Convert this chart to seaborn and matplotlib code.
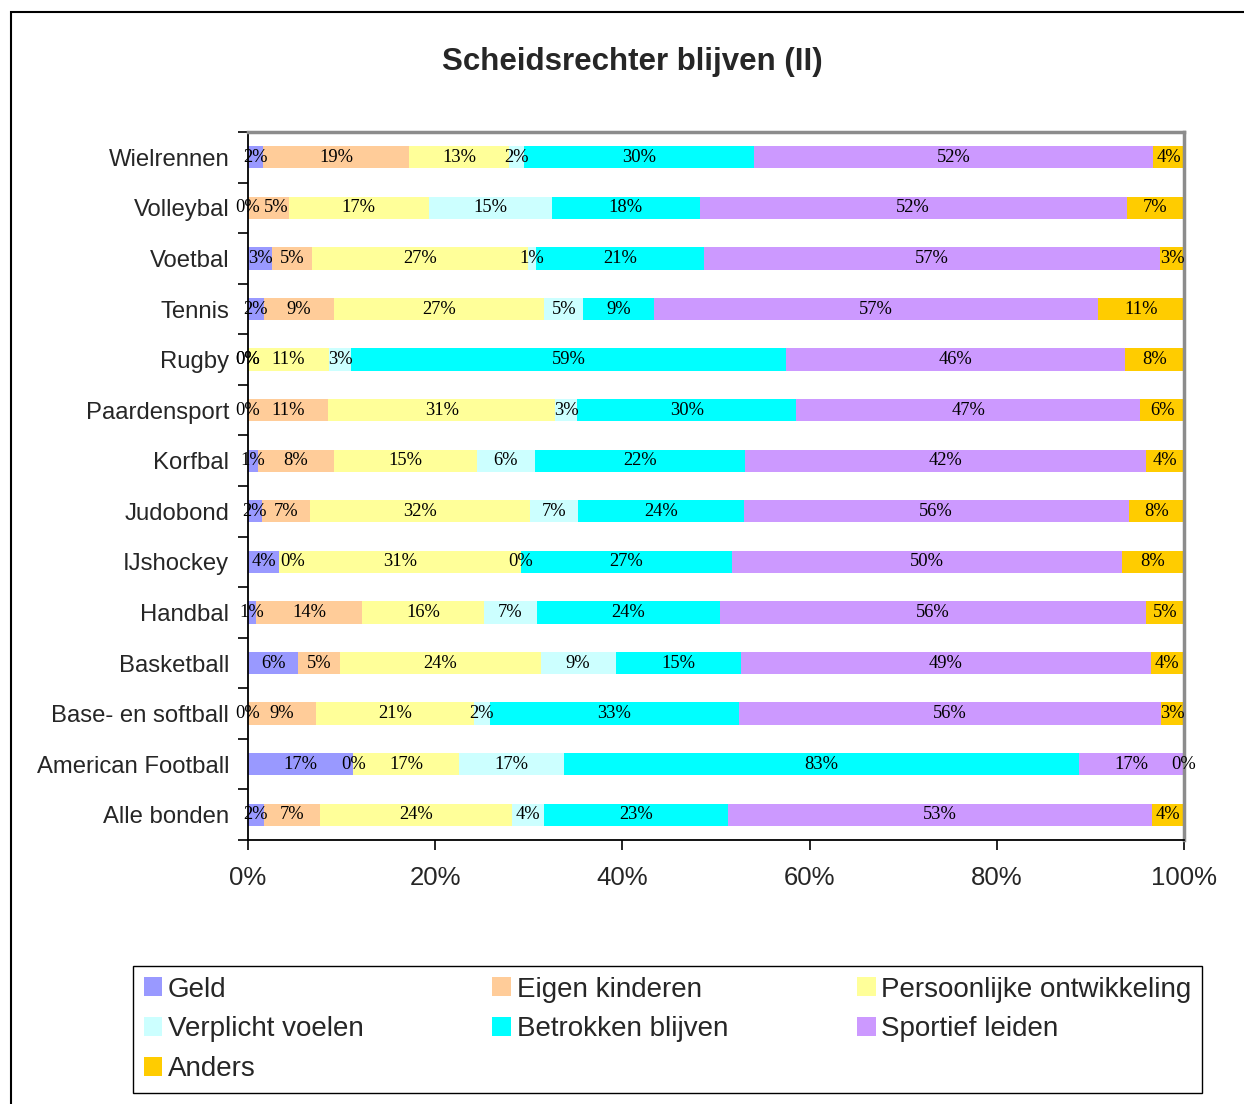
import numpy as np
import pandas as pd
import seaborn as sns
import matplotlib.pyplot as plt
from matplotlib.patches import Rectangle

sports = ["Wielrennen", "Volleybal", "Voetbal", "Tennis", "Rugby", "Paardensport",
          "Korfbal", "Judobond", "IJshockey", "Handbal", "Basketball",
          "Base- en softball", "American Football", "Alle bonden"]

reasons = ["Geld", "Eigen kinderen", "Persoonlijke ontwikkeling", "Verplicht voelen",
           "Betrokken blijven", "Sportief leiden", "Anders"]

geld = [2, 0, 3, 2, 0, 0, 1, 2, 4, 1, 6, 0, 17, 2]
eigen_kinderen = [19, 5, 5, 9, 0, 11, 8, 7, 0, 14, 5, 9, 0, 7]
persoonlijk = [13, 17, 27, 27, 11, 31, 15, 32, 31, 16, 24, 21, 17, 24]
verplicht = [2, 15, 1, 5, 3, 3, 6, 7, 0, 7, 9, 2, 17, 4]
betrokken = [30, 18, 21, 9, 59, 30, 22, 24, 27, 24, 15, 33, 83, 23]
sportief = [52, 52, 57, 57, 46, 47, 42, 56, 50, 56, 49, 56, 17, 53]
anders = [4, 7, 3, 11, 8, 6, 4, 8, 8, 5, 4, 3, 0, 4]

colors = ["#9999FF", "#FFCC99", "#FFFF99", "#CCFFFF", "#00FFFF", "#CC99FF", "#FFCC00"]

df = pd.DataFrame(dict(zip(reasons, [geld, eigen_kinderen, persoonlijk, verplicht,
                                      betrokken, sportief, anders])), index=sports)
share = df.div(df.sum(axis=1), axis=0) * 100
cum = share.cumsum(axis=1)

sns.set_style("white")
plt.rcParams["font.family"] = ["Liberation Sans", "DejaVu Sans"]

fig = plt.figure(figsize=(12.44, 11.04), dpi=100)
ax = fig.add_axes([248 / 1244, 1 - 840 / 1104, 936 / 1244, 708 / 1104])

# stacked bars: draw cumulative totals from the last reason back to the first
for reason, col in zip(reasons[::-1], colors[::-1]):
    sns.barplot(x=cum[reason].values, y=sports, orient="h", color=col, saturation=1,
                width=0.44, linewidth=0, label=reason, ax=ax)

ax.set_xlim(0, 100)
ax.set_ylim(len(sports) - 0.5, -0.5)

# value labels, centred in each segment; push a label right when it would collide
renderer = fig.canvas.get_renderer()
px_per_unit = ax.transData.transform((1, 0))[0] - ax.transData.transform((0, 0))[0]
for i, sport in enumerate(sports):
    prev_right = None
    prev_centre = None
    for reason in reasons:
        centre = cum.loc[sport, reason] - share.loc[sport, reason] / 2
        t = ax.text(centre, i, "{}%".format(df.loc[sport, reason]), ha="center", va="center",
                    fontsize=13.3, family="Liberation Serif", color="black", clip_on=False)
        half = t.get_window_extent(renderer).width / 2 / px_per_unit
        if prev_right is not None and abs(centre - prev_centre) > 1e-9:
            gap = 4 / px_per_unit
            if centre - half < prev_right + gap:
                centre = prev_right + gap + half
                t.set_x(centre)
        prev_right = centre + half
        prev_centre = centre

ax.set_xticks(range(0, 101, 20))
ax.set_xticklabels(["{}%".format(t) for t in range(0, 101, 20)], fontsize=18.5)
ax.set_yticks(range(len(sports)))
ax.set_yticklabels(sports, fontsize=17.2)
ax.set_yticks(np.arange(-0.5, len(sports), 1), minor=True)
ax.tick_params(axis="y", which="major", length=0, pad=13.5)
ax.tick_params(axis="y", which="minor", left=True, length=7, width=1.2, color="black")
ax.tick_params(axis="x", which="major", bottom=True, length=7, width=1.2, color="black", pad=12)
ax.set_xlabel("")
ax.set_ylabel("")

for side in ["left", "bottom"]:
    ax.spines[side].set_color("black")
    ax.spines[side].set_linewidth(1.3)
for side in ["top", "right"]:
    ax.spines[side].set_color("#8c8c8c")
    ax.spines[side].set_linewidth(2.5)

# legend filled row by row like the original (matplotlib fills columns)
handles, labels = ax.get_legend_handles_labels()
if ax.legend_:
    ax.legend_.remove()
lookup = dict(zip(labels, handles))
order = [reasons[k] for k in (0, 3, 6, 1, 4, 2, 5)]
fig.legend([lookup[r] for r in order], order, ncol=3, loc="center", mode="expand",
           bbox_to_anchor=(133 / 1244, 12 / 1104, 1069 / 1244, 125 / 1104),
           fontsize=20, frameon=True, fancybox=False, edgecolor="black", framealpha=1,
           handlelength=0.68, handleheight=0.68, handletextpad=0.2, labelspacing=0.5,
           borderaxespad=0, borderpad=0.38, columnspacing=0.5)
fig.legends[0].get_frame().set_linewidth(1.0)

fig.text(632 / 1244, 1 - 62 / 1104, "Scheidsrechter blijven (II)", ha="center", va="center",
         fontsize=22.5, fontweight="bold")

fig.patches.append(Rectangle((11 / 1244, -0.1), 1.2, 1 - 12 / 1104 + 0.1,
                             transform=fig.transFigure, fill=False, edgecolor="black",
                             linewidth=1.5, zorder=-1))

fig.savefig("out.png", dpi=100, facecolor="white")
plt.close()
